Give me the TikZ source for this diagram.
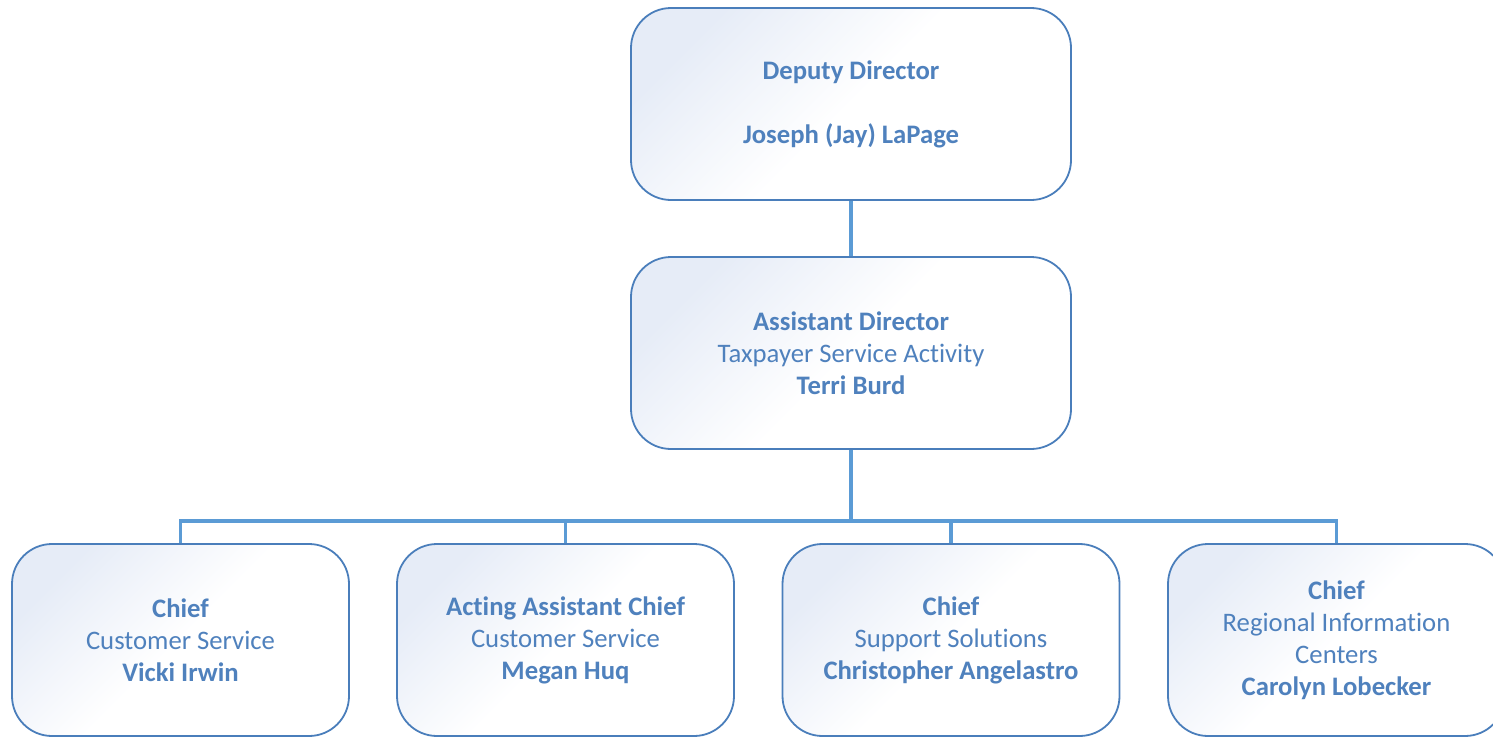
\documentclass[tikz,border=0pt]{standalone}
\usepackage{fontspec}
\setmainfont{Carlito}[Ligatures={NoCommon}]
\definecolor{txt}{HTML}{4F81BD}
\definecolor{edgec}{HTML}{4A7EBB}
\definecolor{conn}{HTML}{5B9BD5}
\definecolor{shadeA}{HTML}{E6ECF7}
\begin{document}
\begin{tikzpicture}[x=1pt,y=-1pt,
  box/.style={draw=edgec, line width=1.8pt, rounded corners=40pt,
    minimum width=440pt, minimum height=192pt,
    top color=shadeA, bottom color=white, middle color=white, shading angle=45,
    align=center, text=txt, inner sep=0pt,
    font=\fontsize{26.7}{32}\selectfont},
  sbox/.style={box, minimum width=337pt},
  connector/.style={draw=conn, line width=3.5pt}]
\useasboundingbox (0,0) rectangle (1493,736);
\coordinate (bar) at (0,521);
\node[box] (top) at (851,104) {\textbf{Deputy Director}\\~\\\textbf{Joseph (Jay) LaPage}};
\node[box] (asst) at (851,353) {\textbf{Assistant Director}\\Taxpayer Service Activity\\\textbf{Terri Burd}};
\node[sbox] (b1) at (180.5,640) {\textbf{Chief}\\Customer Service\\\textbf{Vicki Irwin}};
\node[sbox] (b2) at (565.5,640) {\textbf{Acting Assistant Chief}\\Customer Service\\\textbf{Megan Huq}};
\node[sbox] (b3) at (951,640) {\textbf{Chief}\\Support Solutions\\\textbf{Christopher Angelastro}};
\node[sbox] (b4) at (1336.5,640) {\textbf{Chief}\\Regional Information\\Centers\\\textbf{Carolyn Lobecker}};
\draw[connector] (top.south) -- (asst.north);
\draw[connector] (asst.south) -- (asst.south |- bar);
\draw[connector] (b1.north) -- (b1.north |- bar) -- (b4.north |- bar) -- (b4.north);
\draw[connector] (b2.north) -- (b2.north |- bar);
\draw[connector] (b3.north) -- (b3.north |- bar);
\end{tikzpicture}
\end{document}
